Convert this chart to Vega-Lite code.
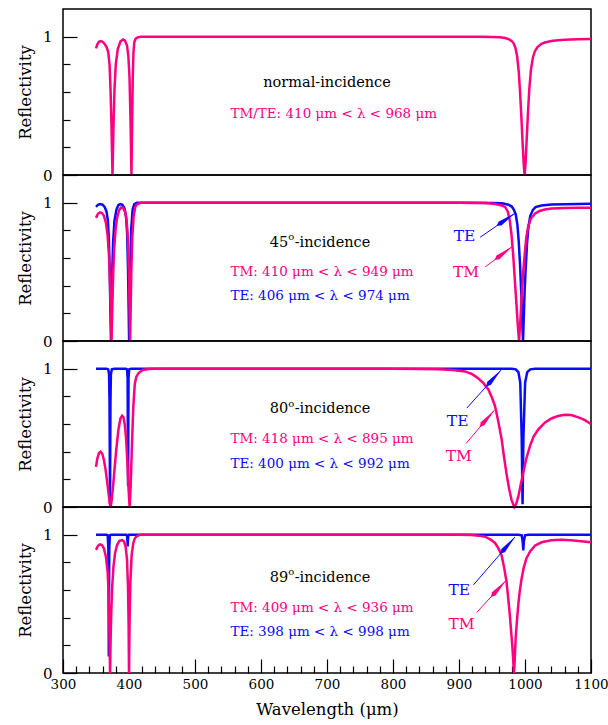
{
"$schema":"https://vega.github.io/schema/vega-lite/v6.json",
"padding":{"left":16,"top":8,"right":0,"bottom":3},
"background":"white",
"bounds":"flush",
"spacing":0,
"config":{
 "view":{"stroke":"black","strokeWidth":1.5},
 "axis":{"labelFont":"DejaVu Serif","titleFont":"DejaVu Serif","labelColor":"black","titleColor":"black","tickColor":"black","grid":false,"domain":false,"titleFontWeight":"normal","format":"d"},
 "text":{"font":"DejaVu Serif"}
},
"datasets":{
"curves":[
{"p":1,"pol":"TM/TE","w":350,"r":0.916},{"p":1,"pol":"TM/TE","w":352,"r":0.945},{"p":1,"pol":"TM/TE","w":354.5,"r":0.963},{"p":1,"pol":"TM/TE","w":357,"r":0.968},{"p":1,"pol":"TM/TE","w":360,"r":0.962},{"p":1,"pol":"TM/TE","w":363,"r":0.948},{"p":1,"pol":"TM/TE","w":366,"r":0.925},{"p":1,"pol":"TM/TE","w":368.5,"r":0.89},{"p":1,"pol":"TM/TE","w":370.5,"r":0.8},{"p":1,"pol":"TM/TE","w":372,"r":0.62},{"p":1,"pol":"TM/TE","w":373.5,"r":0.35},{"p":1,"pol":"TM/TE","w":375,"r":0},{"p":1,"pol":"TM/TE","w":376.5,"r":0.35},{"p":1,"pol":"TM/TE","w":378,"r":0.62},{"p":1,"pol":"TM/TE","w":380,"r":0.8},{"p":1,"pol":"TM/TE","w":383,"r":0.91},{"p":1,"pol":"TM/TE","w":387,"r":0.965},{"p":1,"pol":"TM/TE","w":391,"r":0.98},{"p":1,"pol":"TM/TE","w":394,"r":0.972},{"p":1,"pol":"TM/TE","w":397,"r":0.935},{"p":1,"pol":"TM/TE","w":399,"r":0.86},{"p":1,"pol":"TM/TE","w":400.8,"r":0.7},{"p":1,"pol":"TM/TE","w":402.3,"r":0.4},{"p":1,"pol":"TM/TE","w":403.7,"r":0},{"p":1,"pol":"TM/TE","w":404.7,"r":0.35},{"p":1,"pol":"TM/TE","w":405.7,"r":0.7},{"p":1,"pol":"TM/TE","w":406.7,"r":0.88},{"p":1,"pol":"TM/TE","w":408,"r":0.96},{"p":1,"pol":"TM/TE","w":410,"r":0.985},{"p":1,"pol":"TM/TE","w":413,"r":0.995},{"p":1,"pol":"TM/TE","w":418,"r":1},{"p":1,"pol":"TM/TE","w":600,"r":1},{"p":1,"pol":"TM/TE","w":800,"r":1},{"p":1,"pol":"TM/TE","w":930,"r":1},{"p":1,"pol":"TM/TE","w":950,"r":0.998},{"p":1,"pol":"TM/TE","w":962,"r":0.995},{"p":1,"pol":"TM/TE","w":970,"r":0.99},{"p":1,"pol":"TM/TE","w":976,"r":0.98},{"p":1,"pol":"TM/TE","w":980,"r":0.968},{"p":1,"pol":"TM/TE","w":983,"r":0.95},{"p":1,"pol":"TM/TE","w":985.5,"r":0.92},{"p":1,"pol":"TM/TE","w":988,"r":0.86},{"p":1,"pol":"TM/TE","w":990.5,"r":0.75},{"p":1,"pol":"TM/TE","w":992.5,"r":0.6},{"p":1,"pol":"TM/TE","w":994.5,"r":0.42},{"p":1,"pol":"TM/TE","w":996.5,"r":0.22},{"p":1,"pol":"TM/TE","w":998.2,"r":0.07},{"p":1,"pol":"TM/TE","w":999.5,"r":0},{"p":1,"pol":"TM/TE","w":1001,"r":0.1},{"p":1,"pol":"TM/TE","w":1002.5,"r":0.25},{"p":1,"pol":"TM/TE","w":1004.5,"r":0.45},{"p":1,"pol":"TM/TE","w":1006.5,"r":0.62},{"p":1,"pol":"TM/TE","w":1009,"r":0.76},{"p":1,"pol":"TM/TE","w":1012,"r":0.85},{"p":1,"pol":"TM/TE","w":1015,"r":0.895},{"p":1,"pol":"TM/TE","w":1019,"r":0.925},{"p":1,"pol":"TM/TE","w":1025,"r":0.948},{"p":1,"pol":"TM/TE","w":1030,"r":0.958},{"p":1,"pol":"TM/TE","w":1040,"r":0.968},{"p":1,"pol":"TM/TE","w":1050,"r":0.974},{"p":1,"pol":"TM/TE","w":1060,"r":0.978},{"p":1,"pol":"TM/TE","w":1080,"r":0.981},{"p":1,"pol":"TM/TE","w":1100,"r":0.983},

{"p":2,"pol":"TE","w":350,"r":0.97},{"p":2,"pol":"TE","w":353,"r":0.985},{"p":2,"pol":"TE","w":356,"r":0.99},{"p":2,"pol":"TE","w":360,"r":0.985},{"p":2,"pol":"TE","w":363,"r":0.97},{"p":2,"pol":"TE","w":366,"r":0.935},{"p":2,"pol":"TE","w":368,"r":0.87},{"p":2,"pol":"TE","w":369.5,"r":0.74},{"p":2,"pol":"TE","w":370.8,"r":0.5},{"p":2,"pol":"TE","w":371.8,"r":0.22},{"p":2,"pol":"TE","w":372.7,"r":0},{"p":2,"pol":"TE","w":373.6,"r":0.22},{"p":2,"pol":"TE","w":374.6,"r":0.5},{"p":2,"pol":"TE","w":376,"r":0.72},{"p":2,"pol":"TE","w":378,"r":0.87},{"p":2,"pol":"TE","w":381,"r":0.95},{"p":2,"pol":"TE","w":384,"r":0.983},{"p":2,"pol":"TE","w":387,"r":0.99},{"p":2,"pol":"TE","w":390,"r":0.985},{"p":2,"pol":"TE","w":393,"r":0.962},{"p":2,"pol":"TE","w":395.5,"r":0.905},{"p":2,"pol":"TE","w":397.2,"r":0.78},{"p":2,"pol":"TE","w":398.5,"r":0.52},{"p":2,"pol":"TE","w":399.5,"r":0.22},{"p":2,"pol":"TE","w":400.2,"r":0},{"p":2,"pol":"TE","w":401,"r":0.25},{"p":2,"pol":"TE","w":402,"r":0.55},{"p":2,"pol":"TE","w":403.5,"r":0.82},{"p":2,"pol":"TE","w":405.5,"r":0.95},{"p":2,"pol":"TE","w":408,"r":0.99},{"p":2,"pol":"TE","w":412,"r":1},{"p":2,"pol":"TE","w":600,"r":1},{"p":2,"pol":"TE","w":900,"r":1},{"p":2,"pol":"TE","w":950,"r":0.998},{"p":2,"pol":"TE","w":965,"r":0.995},{"p":2,"pol":"TE","w":975,"r":0.985},{"p":2,"pol":"TE","w":980,"r":0.972},{"p":2,"pol":"TE","w":983,"r":0.95},{"p":2,"pol":"TE","w":986,"r":0.915},{"p":2,"pol":"TE","w":988.5,"r":0.84},{"p":2,"pol":"TE","w":990.5,"r":0.72},{"p":2,"pol":"TE","w":992.5,"r":0.55},{"p":2,"pol":"TE","w":994.5,"r":0.33},{"p":2,"pol":"TE","w":996,"r":0.12},{"p":2,"pol":"TE","w":997,"r":0},{"p":2,"pol":"TE","w":998,"r":0.15},{"p":2,"pol":"TE","w":999.5,"r":0.37},{"p":2,"pol":"TE","w":1001,"r":0.52},{"p":2,"pol":"TE","w":1003,"r":0.7},{"p":2,"pol":"TE","w":1005,"r":0.82},{"p":2,"pol":"TE","w":1008,"r":0.905},{"p":2,"pol":"TE","w":1012,"r":0.948},{"p":2,"pol":"TE","w":1016,"r":0.968},{"p":2,"pol":"TE","w":1025,"r":0.98},{"p":2,"pol":"TE","w":1040,"r":0.986},{"p":2,"pol":"TE","w":1060,"r":0.989},{"p":2,"pol":"TE","w":1100,"r":0.992},

{"p":2,"pol":"TM","w":350,"r":0.89},{"p":2,"pol":"TM","w":353,"r":0.92},{"p":2,"pol":"TM","w":356,"r":0.93},{"p":2,"pol":"TM","w":359,"r":0.925},{"p":2,"pol":"TM","w":362,"r":0.905},{"p":2,"pol":"TM","w":365,"r":0.855},{"p":2,"pol":"TM","w":367.5,"r":0.77},{"p":2,"pol":"TM","w":369.5,"r":0.63},{"p":2,"pol":"TM","w":371,"r":0.45},{"p":2,"pol":"TM","w":372.5,"r":0.2},{"p":2,"pol":"TM","w":373.5,"r":0},{"p":2,"pol":"TM","w":374.5,"r":0.2},{"p":2,"pol":"TM","w":376,"r":0.48},{"p":2,"pol":"TM","w":377.5,"r":0.66},{"p":2,"pol":"TM","w":379.5,"r":0.8},{"p":2,"pol":"TM","w":382,"r":0.89},{"p":2,"pol":"TM","w":385,"r":0.945},{"p":2,"pol":"TM","w":388,"r":0.965},{"p":2,"pol":"TM","w":391,"r":0.962},{"p":2,"pol":"TM","w":394,"r":0.935},{"p":2,"pol":"TM","w":396.5,"r":0.865},{"p":2,"pol":"TM","w":398.5,"r":0.72},{"p":2,"pol":"TM","w":400,"r":0.45},{"p":2,"pol":"TM","w":401,"r":0.2},{"p":2,"pol":"TM","w":401.7,"r":0},{"p":2,"pol":"TM","w":402.5,"r":0.22},{"p":2,"pol":"TM","w":403.5,"r":0.5},{"p":2,"pol":"TM","w":405,"r":0.75},{"p":2,"pol":"TM","w":407,"r":0.9},{"p":2,"pol":"TM","w":409.5,"r":0.97},{"p":2,"pol":"TM","w":413,"r":0.99},{"p":2,"pol":"TM","w":418,"r":1},{"p":2,"pol":"TM","w":600,"r":1},{"p":2,"pol":"TM","w":900,"r":1},{"p":2,"pol":"TM","w":940,"r":0.998},{"p":2,"pol":"TM","w":955,"r":0.99},{"p":2,"pol":"TM","w":965,"r":0.98},{"p":2,"pol":"TM","w":970,"r":0.968},{"p":2,"pol":"TM","w":974,"r":0.935},{"p":2,"pol":"TM","w":977,"r":0.87},{"p":2,"pol":"TM","w":979.5,"r":0.77},{"p":2,"pol":"TM","w":982,"r":0.63},{"p":2,"pol":"TM","w":984.5,"r":0.45},{"p":2,"pol":"TM","w":987,"r":0.27},{"p":2,"pol":"TM","w":989,"r":0.12},{"p":2,"pol":"TM","w":991,"r":0},{"p":2,"pol":"TM","w":993,"r":0.15},{"p":2,"pol":"TM","w":995,"r":0.33},{"p":2,"pol":"TM","w":997.5,"r":0.51},{"p":2,"pol":"TM","w":1000,"r":0.65},{"p":2,"pol":"TM","w":1002,"r":0.75},{"p":2,"pol":"TM","w":1005,"r":0.83},{"p":2,"pol":"TM","w":1009,"r":0.885},{"p":2,"pol":"TM","w":1015,"r":0.92},{"p":2,"pol":"TM","w":1022,"r":0.94},{"p":2,"pol":"TM","w":1030,"r":0.95},{"p":2,"pol":"TM","w":1040,"r":0.957},{"p":2,"pol":"TM","w":1060,"r":0.961},{"p":2,"pol":"TM","w":1080,"r":0.963},{"p":2,"pol":"TM","w":1100,"r":0.963},

{"p":3,"pol":"TE","w":350,"r":1},{"p":3,"pol":"TE","w":366,"r":1},{"p":3,"pol":"TE","w":368.5,"r":0.995},{"p":3,"pol":"TE","w":369.8,"r":0.96},{"p":3,"pol":"TE","w":370.5,"r":0.75},{"p":3,"pol":"TE","w":370.9,"r":0.35},{"p":3,"pol":"TE","w":371.2,"r":0.02},{"p":3,"pol":"TE","w":371.5,"r":0.35},{"p":3,"pol":"TE","w":371.9,"r":0.75},{"p":3,"pol":"TE","w":372.6,"r":0.96},{"p":3,"pol":"TE","w":374,"r":0.995},{"p":3,"pol":"TE","w":378,"r":1},{"p":3,"pol":"TE","w":395,"r":1},{"p":3,"pol":"TE","w":397,"r":0.995},{"p":3,"pol":"TE","w":397.9,"r":0.93},{"p":3,"pol":"TE","w":398.3,"r":0.5},{"p":3,"pol":"TE","w":398.6,"r":0.15},{"p":3,"pol":"TE","w":398.9,"r":0.5},{"p":3,"pol":"TE","w":399.3,"r":0.93},{"p":3,"pol":"TE","w":400.2,"r":0.995},{"p":3,"pol":"TE","w":403,"r":1},{"p":3,"pol":"TE","w":980,"r":1},{"p":3,"pol":"TE","w":986,"r":0.995},{"p":3,"pol":"TE","w":990,"r":0.975},{"p":3,"pol":"TE","w":992.8,"r":0.9},{"p":3,"pol":"TE","w":995,"r":0.5},{"p":3,"pol":"TE","w":996.3,"r":0.02},{"p":3,"pol":"TE","w":997.6,"r":0.5},{"p":3,"pol":"TE","w":1000.2,"r":0.9},{"p":3,"pol":"TE","w":1003.4,"r":0.975},{"p":3,"pol":"TE","w":1008,"r":0.995},{"p":3,"pol":"TE","w":1015,"r":1},{"p":3,"pol":"TE","w":1100,"r":1},

{"p":3,"pol":"TM","w":350,"r":0.29},{"p":3,"pol":"TM","w":352,"r":0.35},{"p":3,"pol":"TM","w":354.5,"r":0.39},{"p":3,"pol":"TM","w":357,"r":0.4},{"p":3,"pol":"TM","w":359.5,"r":0.385},{"p":3,"pol":"TM","w":362,"r":0.34},{"p":3,"pol":"TM","w":364.5,"r":0.27},{"p":3,"pol":"TM","w":367,"r":0.18},{"p":3,"pol":"TM","w":369,"r":0.1},{"p":3,"pol":"TM","w":370.5,"r":0.04},{"p":3,"pol":"TM","w":372,"r":0},{"p":3,"pol":"TM","w":373.5,"r":0.04},{"p":3,"pol":"TM","w":375.5,"r":0.13},{"p":3,"pol":"TM","w":378,"r":0.27},{"p":3,"pol":"TM","w":381,"r":0.43},{"p":3,"pol":"TM","w":384,"r":0.56},{"p":3,"pol":"TM","w":387,"r":0.64},{"p":3,"pol":"TM","w":389.5,"r":0.66},{"p":3,"pol":"TM","w":391.5,"r":0.65},{"p":3,"pol":"TM","w":393.5,"r":0.6},{"p":3,"pol":"TM","w":395.5,"r":0.5},{"p":3,"pol":"TM","w":397.5,"r":0.33},{"p":3,"pol":"TM","w":399.3,"r":0.13},{"p":3,"pol":"TM","w":401,"r":0},{"p":3,"pol":"TM","w":402.5,"r":0.15},{"p":3,"pol":"TM","w":404.5,"r":0.45},{"p":3,"pol":"TM","w":406.5,"r":0.72},{"p":3,"pol":"TM","w":408.7,"r":0.887},{"p":3,"pol":"TM","w":411,"r":0.94},{"p":3,"pol":"TM","w":413.5,"r":0.96},{"p":3,"pol":"TM","w":416,"r":0.975},{"p":3,"pol":"TM","w":421,"r":0.99},{"p":3,"pol":"TM","w":430,"r":0.997},{"p":3,"pol":"TM","w":440,"r":1},{"p":3,"pol":"TM","w":800,"r":1},{"p":3,"pol":"TM","w":840,"r":0.998},{"p":3,"pol":"TM","w":869,"r":0.995},{"p":3,"pol":"TM","w":890,"r":0.99},{"p":3,"pol":"TM","w":909,"r":0.98},{"p":3,"pol":"TM","w":920,"r":0.96},{"p":3,"pol":"TM","w":929,"r":0.93},{"p":3,"pol":"TM","w":937,"r":0.895},{"p":3,"pol":"TM","w":944.5,"r":0.85},{"p":3,"pol":"TM","w":950,"r":0.79},{"p":3,"pol":"TM","w":954.6,"r":0.73},{"p":3,"pol":"TM","w":959,"r":0.63},{"p":3,"pol":"TM","w":964.6,"r":0.49},{"p":3,"pol":"TM","w":968,"r":0.37},{"p":3,"pol":"TM","w":972,"r":0.24},{"p":3,"pol":"TM","w":976,"r":0.13},{"p":3,"pol":"TM","w":979.7,"r":0.05},{"p":3,"pol":"TM","w":983.8,"r":0},{"p":3,"pol":"TM","w":986.5,"r":0.02},{"p":3,"pol":"TM","w":989.8,"r":0.075},{"p":3,"pol":"TM","w":993,"r":0.15},{"p":3,"pol":"TM","w":997,"r":0.24},{"p":3,"pol":"TM","w":1002,"r":0.35},{"p":3,"pol":"TM","w":1007.5,"r":0.44},{"p":3,"pol":"TM","w":1013,"r":0.51},{"p":3,"pol":"TM","w":1020,"r":0.56},{"p":3,"pol":"TM","w":1030,"r":0.61},{"p":3,"pol":"TM","w":1040,"r":0.64},{"p":3,"pol":"TM","w":1050,"r":0.658},{"p":3,"pol":"TM","w":1060,"r":0.667},{"p":3,"pol":"TM","w":1070,"r":0.665},{"p":3,"pol":"TM","w":1080,"r":0.65},{"p":3,"pol":"TM","w":1090,"r":0.63},{"p":3,"pol":"TM","w":1100,"r":0.6},

{"p":4,"pol":"TE","w":350,"r":1},{"p":4,"pol":"TE","w":366,"r":1},{"p":4,"pol":"TE","w":367.8,"r":0.995},{"p":4,"pol":"TE","w":368.7,"r":0.9},{"p":4,"pol":"TE","w":369.1,"r":0.5},{"p":4,"pol":"TE","w":369.4,"r":0.12},{"p":4,"pol":"TE","w":369.7,"r":0.5},{"p":4,"pol":"TE","w":370.1,"r":0.9},{"p":4,"pol":"TE","w":371,"r":0.995},{"p":4,"pol":"TE","w":373,"r":1},{"p":4,"pol":"TE","w":396,"r":1},{"p":4,"pol":"TE","w":397.2,"r":0.99},{"p":4,"pol":"TE","w":397.7,"r":0.95},{"p":4,"pol":"TE","w":398,"r":0.915},{"p":4,"pol":"TE","w":398.3,"r":0.95},{"p":4,"pol":"TE","w":398.8,"r":0.99},{"p":4,"pol":"TE","w":400,"r":1},{"p":4,"pol":"TE","w":990,"r":1},{"p":4,"pol":"TE","w":995,"r":0.995},{"p":4,"pol":"TE","w":996.5,"r":0.95},{"p":4,"pol":"TE","w":997.4,"r":0.886},{"p":4,"pol":"TE","w":998.3,"r":0.95},{"p":4,"pol":"TE","w":1000,"r":0.995},{"p":4,"pol":"TE","w":1005,"r":1},{"p":4,"pol":"TE","w":1100,"r":1},

{"p":4,"pol":"TM","w":350,"r":0.89},{"p":4,"pol":"TM","w":353,"r":0.92},{"p":4,"pol":"TM","w":356,"r":0.93},{"p":4,"pol":"TM","w":359,"r":0.925},{"p":4,"pol":"TM","w":362,"r":0.9},{"p":4,"pol":"TM","w":365,"r":0.84},{"p":4,"pol":"TM","w":367.5,"r":0.74},{"p":4,"pol":"TM","w":369,"r":0.6},{"p":4,"pol":"TM","w":370,"r":0.4},{"p":4,"pol":"TM","w":370.7,"r":0.2},{"p":4,"pol":"TM","w":371.3,"r":0},{"p":4,"pol":"TM","w":372,"r":0.2},{"p":4,"pol":"TM","w":373,"r":0.42},{"p":4,"pol":"TM","w":374.5,"r":0.62},{"p":4,"pol":"TM","w":376.5,"r":0.77},{"p":4,"pol":"TM","w":379,"r":0.87},{"p":4,"pol":"TM","w":382,"r":0.925},{"p":4,"pol":"TM","w":385.5,"r":0.955},{"p":4,"pol":"TM","w":389.5,"r":0.96},{"p":4,"pol":"TM","w":392.5,"r":0.95},{"p":4,"pol":"TM","w":395,"r":0.91},{"p":4,"pol":"TM","w":397,"r":0.82},{"p":4,"pol":"TM","w":398.5,"r":0.62},{"p":4,"pol":"TM","w":399.4,"r":0.35},{"p":4,"pol":"TM","w":400,"r":0},{"p":4,"pol":"TM","w":400.8,"r":0.35},{"p":4,"pol":"TM","w":402,"r":0.65},{"p":4,"pol":"TM","w":404,"r":0.85},{"p":4,"pol":"TM","w":406.5,"r":0.94},{"p":4,"pol":"TM","w":409,"r":0.975},{"p":4,"pol":"TM","w":412,"r":0.99},{"p":4,"pol":"TM","w":418,"r":1},{"p":4,"pol":"TM","w":600,"r":1},{"p":4,"pol":"TM","w":900,"r":1},{"p":4,"pol":"TM","w":919,"r":0.998},{"p":4,"pol":"TM","w":930,"r":0.993},{"p":4,"pol":"TM","w":939.5,"r":0.985},{"p":4,"pol":"TM","w":948,"r":0.965},{"p":4,"pol":"TM","w":954.6,"r":0.94},{"p":4,"pol":"TM","w":960,"r":0.9},{"p":4,"pol":"TM","w":964.6,"r":0.85},{"p":4,"pol":"TM","w":968.5,"r":0.76},{"p":4,"pol":"TM","w":972,"r":0.66},{"p":4,"pol":"TM","w":975,"r":0.52},{"p":4,"pol":"TM","w":977,"r":0.42},{"p":4,"pol":"TM","w":979,"r":0.3},{"p":4,"pol":"TM","w":980.8,"r":0.195},{"p":4,"pol":"TM","w":982.3,"r":0.08},{"p":4,"pol":"TM","w":983.3,"r":0},{"p":4,"pol":"TM","w":984.5,"r":0.1},{"p":4,"pol":"TM","w":985.8,"r":0.25},{"p":4,"pol":"TM","w":988,"r":0.39},{"p":4,"pol":"TM","w":989.8,"r":0.49},{"p":4,"pol":"TM","w":992,"r":0.59},{"p":4,"pol":"TM","w":994.8,"r":0.68},{"p":4,"pol":"TM","w":998,"r":0.76},{"p":4,"pol":"TM","w":1002.3,"r":0.83},{"p":4,"pol":"TM","w":1008,"r":0.88},{"p":4,"pol":"TM","w":1015,"r":0.92},{"p":4,"pol":"TM","w":1025,"r":0.945},{"p":4,"pol":"TM","w":1040,"r":0.96},{"p":4,"pol":"TM","w":1055,"r":0.963},{"p":4,"pol":"TM","w":1070,"r":0.96},{"p":4,"pol":"TM","w":1085,"r":0.953},{"p":4,"pol":"TM","w":1100,"r":0.946}
],
"notes":[
{"p":1,"kind":"head","pol":"","txt":"normal-incidence","w":603.4,"r":0.636},
{"p":1,"kind":"range","pol":"TM/TE","txt":"TM/TE: 410 μm < λ < 968 μm","w":553.6,"r":0.41},
{"p":2,"kind":"num","pol":"","txt":"45","w":613.2,"r":0.683},
{"p":2,"kind":"sup","pol":"","txt":"o","w":613.2,"r":0.683},
{"p":2,"kind":"tail","pol":"","txt":"-incidence","w":613.2,"r":0.683},
{"p":2,"kind":"range","pol":"TM","txt":"TM: 410 μm < λ < 949 μm","w":553.6,"r":0.47},
{"p":2,"kind":"range","pol":"TE","txt":"TE: 406 μm < λ < 974 μm","w":553.6,"r":0.3},
{"p":2,"kind":"tag","pol":"TE","txt":"TE","w":908.3,"r":0.723},
{"p":2,"kind":"tag","pol":"TM","txt":"TM","w":910.6,"r":0.465},
{"p":3,"kind":"num","pol":"","txt":"80","w":613.2,"r":0.678},
{"p":3,"kind":"sup","pol":"","txt":"o","w":613.2,"r":0.678},
{"p":3,"kind":"tail","pol":"","txt":"-incidence","w":613.2,"r":0.678},
{"p":3,"kind":"range","pol":"TM","txt":"TM: 418 μm < λ < 895 μm","w":553.6,"r":0.461},
{"p":3,"kind":"range","pol":"TE","txt":"TE: 400 μm < λ < 992 μm","w":553.6,"r":0.284},
{"p":3,"kind":"tag","pol":"TE","txt":"TE","w":898,"r":0.586},
{"p":3,"kind":"tag","pol":"TM","txt":"TM","w":899.7,"r":0.335},
{"p":4,"kind":"num","pol":"","txt":"89","w":613.2,"r":0.658},
{"p":4,"kind":"sup","pol":"","txt":"o","w":613.2,"r":0.658},
{"p":4,"kind":"tail","pol":"","txt":"-incidence","w":613.2,"r":0.658},
{"p":4,"kind":"range","pol":"TM","txt":"TM: 409 μm < λ < 936 μm","w":553.6,"r":0.441},
{"p":4,"kind":"range","pol":"TE","txt":"TE: 398 μm < λ < 998 μm","w":553.6,"r":0.268},
{"p":4,"kind":"tag","pol":"TE","txt":"TE","w":900.5,"r":0.564},
{"p":4,"kind":"tag","pol":"TM","txt":"TM","w":903.8,"r":0.316}
],
"arrows":[
{"p":2,"pol":"TE","w":932,"r":0.75,"w2":984.8,"r2":0.923},
{"p":2,"pol":"TM","w":939.5,"r":0.535,"w2":980.8,"r2":0.683},
{"p":3,"pol":"TE","w":911.8,"r":0.715,"w2":963.7,"r2":0.99},
{"p":3,"pol":"TM","w":910.8,"r":0.46,"w2":953.6,"r2":0.7},
{"p":4,"pol":"TE","w":921.9,"r":0.637,"w2":984.8,"r2":0.983},
{"p":4,"pol":"TM","w":926.9,"r":0.438,"w2":971.2,"r2":0.668}
]
},
"vconcat":[
{
"width":528,"height":166,
"layer":[
{"data":{"name":"curves"},"transform":[{"filter":"datum.p == 1"}],
 "mark":{"type":"line","color":"#ff0080","strokeWidth":2.5},
 "encoding":{"x":{"field":"w","type":"quantitative","scale":{"domain":[300,1100],"nice":false},"axis":null},
  "y":{"field":"r","type":"quantitative","scale":{"domain":[0,1.2],"nice":false},"axis":{"orient":"left","values":[0,1],"tickSize":-14,"tickWidth":1.2,"labelFontSize":15,"labelPadding":25,"title":"Reflectivity","titleFontSize":16.5,"titlePadding":9,"labelOverlap":false,"labelFlush":false}}}},
{"data":{"name":"notes"},"transform":[{"filter":"datum.p == 1 && datum.kind == 'range'"}],
 "mark":{"type":"text","align":"left","baseline":"alphabetic","fontSize":13.5},
 "encoding":{"x":{"field":"w","type":"quantitative","axis":null},
  "y":{"field":"r","type":"quantitative","axis":{"orient":"left","values":[0.2,0.4,0.6,0.8],"tickSize":-7,"tickWidth":1.2,"labels":false,"title":null}},
  "text":{"field":"txt"},
  "color":{"field":"pol","type":"nominal","scale":{"domain":["TE","TM","TM/TE"],"range":["#0a0aff","#ff0080","#ff0080"]},"legend":null}}},
{"data":{"name":"notes"},"transform":[{"filter":"datum.p == 1 && datum.kind == 'head'"}],
 "mark":{"type":"text","align":"left","baseline":"alphabetic","fontSize":14.5,"color":"black"},
 "encoding":{"x":{"field":"w","type":"quantitative","axis":null},"y":{"field":"r","type":"quantitative","axis":null},"text":{"field":"txt"}}}
],
"resolve":{"axis":{"x":"independent","y":"independent"}}
},
{
"width":528,"height":166,
"layer":[
{"data":{"name":"curves"},"transform":[{"filter":"datum.p == 2 && datum.pol == 'TE'"}],
 "mark":{"type":"line","color":"#0a0aff","strokeWidth":2.5},
 "encoding":{"x":{"field":"w","type":"quantitative","scale":{"domain":[300,1100],"nice":false},"axis":null},
  "y":{"field":"r","type":"quantitative","scale":{"domain":[0,1.2],"nice":false},"axis":null}}},
{"data":{"name":"curves"},"transform":[{"filter":"datum.p == 2 && datum.pol == 'TM'"}],
 "mark":{"type":"line","color":"#ff0080","strokeWidth":2.5},
 "encoding":{"x":{"field":"w","type":"quantitative","axis":null},
  "y":{"field":"r","type":"quantitative","axis":{"orient":"left","values":[0,1],"tickSize":-14,"tickWidth":1.2,"labelFontSize":15,"labelPadding":25,"title":"Reflectivity","titleFontSize":16.5,"titlePadding":9,"labelOverlap":false,"labelFlush":false}}}},
{"data":{"name":"arrows"},"transform":[{"filter":"datum.p == 2"}],
 "mark":{"type":"rule","strokeWidth":1},
 "encoding":{"x":{"field":"w","type":"quantitative","axis":null},"y":{"field":"r","type":"quantitative","axis":null},"x2":{"field":"w2"},"y2":{"field":"r2"},
  "color":{"field":"pol","type":"nominal","scale":{"domain":["TE","TM","TM/TE"],"range":["#0a0aff","#ff0080","#ff0080"]},"legend":null}}},
{"data":{"name":"arrows"},"transform":[{"filter":"datum.p == 2 && datum.pol == 'TE'"}],
 "mark":{"type":"point","shape":"M0,0L0.4,3L0,3.7L-0.4,3Z","size":144,"filled":true,"opacity":1,"strokeWidth":0,"angle":55.6,"color":"#0a0aff"},
 "encoding":{"x":{"field":"w2","type":"quantitative","axis":null},"y":{"field":"r2","type":"quantitative","axis":null}}},
{"data":{"name":"arrows"},"transform":[{"filter":"datum.p == 2 && datum.pol == 'TM'"}],
 "mark":{"type":"point","shape":"M0,0L0.4,3L0,3.7L-0.4,3Z","size":144,"filled":true,"opacity":1,"strokeWidth":0,"angle":52.8,"color":"#ff0080"},
 "encoding":{"x":{"field":"w2","type":"quantitative","axis":null},"y":{"field":"r2","type":"quantitative","axis":null}}},
{"data":{"name":"notes"},"transform":[{"filter":"datum.p == 2 && datum.kind == 'range'"}],
 "mark":{"type":"text","align":"left","baseline":"alphabetic","fontSize":13.5},
 "encoding":{"x":{"field":"w","type":"quantitative","axis":null},
  "y":{"field":"r","type":"quantitative","axis":{"orient":"left","values":[0.2,0.4,0.6,0.8],"tickSize":-7,"tickWidth":1.2,"labels":false,"title":null}},
  "text":{"field":"txt"},
  "color":{"field":"pol","type":"nominal","scale":{"domain":["TE","TM","TM/TE"],"range":["#0a0aff","#ff0080","#ff0080"]},"legend":null}}},
{"data":{"name":"notes"},"transform":[{"filter":"datum.p == 2 && datum.kind == 'tag'"}],
 "mark":{"type":"text","align":"center","baseline":"alphabetic","fontSize":15.5},
 "encoding":{"x":{"field":"w","type":"quantitative","axis":null},"y":{"field":"r","type":"quantitative","axis":null},"text":{"field":"txt"},
  "color":{"field":"pol","type":"nominal","scale":{"domain":["TE","TM","TM/TE"],"range":["#0a0aff","#ff0080","#ff0080"]},"legend":null}}},
{"data":{"name":"notes"},"transform":[{"filter":"datum.p == 2 && datum.kind == 'num'"}],
 "mark":{"type":"text","align":"left","baseline":"alphabetic","fontSize":14.5,"color":"black"},
 "encoding":{"x":{"field":"w","type":"quantitative","axis":null},"y":{"field":"r","type":"quantitative","axis":null},"text":{"field":"txt"}}},
{"data":{"name":"notes"},"transform":[{"filter":"datum.p == 2 && datum.kind == 'sup'"}],
 "mark":{"type":"text","align":"left","baseline":"alphabetic","fontSize":10,"dx":18.5,"dy":-6.5,"color":"black"},
 "encoding":{"x":{"field":"w","type":"quantitative","axis":null},"y":{"field":"r","type":"quantitative","axis":null},"text":{"field":"txt"}}},
{"data":{"name":"notes"},"transform":[{"filter":"datum.p == 2 && datum.kind == 'tail'"}],
 "mark":{"type":"text","align":"left","baseline":"alphabetic","fontSize":14.5,"dx":25,"color":"black"},
 "encoding":{"x":{"field":"w","type":"quantitative","axis":null},"y":{"field":"r","type":"quantitative","axis":null},"text":{"field":"txt"}}}
],
"resolve":{"axis":{"x":"independent","y":"independent"}}
},
{
"width":528,"height":166,
"layer":[
{"data":{"name":"curves"},"transform":[{"filter":"datum.p == 3 && datum.pol == 'TE'"}],
 "mark":{"type":"line","color":"#0a0aff","strokeWidth":2.5},
 "encoding":{"x":{"field":"w","type":"quantitative","scale":{"domain":[300,1100],"nice":false},"axis":null},
  "y":{"field":"r","type":"quantitative","scale":{"domain":[0,1.2],"nice":false},"axis":null}}},
{"data":{"name":"curves"},"transform":[{"filter":"datum.p == 3 && datum.pol == 'TM'"}],
 "mark":{"type":"line","color":"#ff0080","strokeWidth":2.5},
 "encoding":{"x":{"field":"w","type":"quantitative","axis":null},
  "y":{"field":"r","type":"quantitative","axis":{"orient":"left","values":[0,1],"tickSize":-14,"tickWidth":1.2,"labelFontSize":15,"labelPadding":25,"title":"Reflectivity","titleFontSize":16.5,"titlePadding":9,"labelOverlap":false,"labelFlush":false}}}},
{"data":{"name":"arrows"},"transform":[{"filter":"datum.p == 3"}],
 "mark":{"type":"rule","strokeWidth":1},
 "encoding":{"x":{"field":"w","type":"quantitative","axis":null},"y":{"field":"r","type":"quantitative","axis":null},"x2":{"field":"w2"},"y2":{"field":"r2"},
  "color":{"field":"pol","type":"nominal","scale":{"domain":["TE","TM","TM/TE"],"range":["#0a0aff","#ff0080","#ff0080"]},"legend":null}}},
{"data":{"name":"arrows"},"transform":[{"filter":"datum.p == 3 && datum.pol == 'TE'"}],
 "mark":{"type":"point","shape":"M0,0L0.4,3L0,3.7L-0.4,3Z","size":144,"filled":true,"opacity":1,"strokeWidth":0,"angle":41.9,"color":"#0a0aff"},
 "encoding":{"x":{"field":"w2","type":"quantitative","axis":null},"y":{"field":"r2","type":"quantitative","axis":null}}},
{"data":{"name":"arrows"},"transform":[{"filter":"datum.p == 3 && datum.pol == 'TM'"}],
 "mark":{"type":"point","shape":"M0,0L0.4,3L0,3.7L-0.4,3Z","size":144,"filled":true,"opacity":1,"strokeWidth":0,"angle":41,"color":"#ff0080"},
 "encoding":{"x":{"field":"w2","type":"quantitative","axis":null},"y":{"field":"r2","type":"quantitative","axis":null}}},
{"data":{"name":"notes"},"transform":[{"filter":"datum.p == 3 && datum.kind == 'range'"}],
 "mark":{"type":"text","align":"left","baseline":"alphabetic","fontSize":13.5},
 "encoding":{"x":{"field":"w","type":"quantitative","axis":null},
  "y":{"field":"r","type":"quantitative","axis":{"orient":"left","values":[0.2,0.4,0.6,0.8],"tickSize":-7,"tickWidth":1.2,"labels":false,"title":null}},
  "text":{"field":"txt"},
  "color":{"field":"pol","type":"nominal","scale":{"domain":["TE","TM","TM/TE"],"range":["#0a0aff","#ff0080","#ff0080"]},"legend":null}}},
{"data":{"name":"notes"},"transform":[{"filter":"datum.p == 3 && datum.kind == 'tag'"}],
 "mark":{"type":"text","align":"center","baseline":"alphabetic","fontSize":15.5},
 "encoding":{"x":{"field":"w","type":"quantitative","axis":null},"y":{"field":"r","type":"quantitative","axis":null},"text":{"field":"txt"},
  "color":{"field":"pol","type":"nominal","scale":{"domain":["TE","TM","TM/TE"],"range":["#0a0aff","#ff0080","#ff0080"]},"legend":null}}},
{"data":{"name":"notes"},"transform":[{"filter":"datum.p == 3 && datum.kind == 'num'"}],
 "mark":{"type":"text","align":"left","baseline":"alphabetic","fontSize":14.5,"color":"black"},
 "encoding":{"x":{"field":"w","type":"quantitative","axis":null},"y":{"field":"r","type":"quantitative","axis":null},"text":{"field":"txt"}}},
{"data":{"name":"notes"},"transform":[{"filter":"datum.p == 3 && datum.kind == 'sup'"}],
 "mark":{"type":"text","align":"left","baseline":"alphabetic","fontSize":10,"dx":18.5,"dy":-6.5,"color":"black"},
 "encoding":{"x":{"field":"w","type":"quantitative","axis":null},"y":{"field":"r","type":"quantitative","axis":null},"text":{"field":"txt"}}},
{"data":{"name":"notes"},"transform":[{"filter":"datum.p == 3 && datum.kind == 'tail'"}],
 "mark":{"type":"text","align":"left","baseline":"alphabetic","fontSize":14.5,"dx":25,"color":"black"},
 "encoding":{"x":{"field":"w","type":"quantitative","axis":null},"y":{"field":"r","type":"quantitative","axis":null},"text":{"field":"txt"}}}
],
"resolve":{"axis":{"x":"independent","y":"independent"}}
},
{
"width":528,"height":166,
"layer":[
{"data":{"name":"curves"},"transform":[{"filter":"datum.p == 4 && datum.pol == 'TE'"}],
 "mark":{"type":"line","color":"#0a0aff","strokeWidth":2.5},
 "encoding":{"x":{"field":"w","type":"quantitative","scale":{"domain":[300,1100],"nice":false},"axis":null},
  "y":{"field":"r","type":"quantitative","scale":{"domain":[0,1.2],"nice":false},"axis":null}}},
{"data":{"name":"curves"},"transform":[{"filter":"datum.p == 4 && datum.pol == 'TM'"}],
 "mark":{"type":"line","color":"#ff0080","strokeWidth":2.5},
 "encoding":{"x":{"field":"w","type":"quantitative","axis":{"orient":"bottom","values":[300,400,500,600,700,800,900,1000,1100],"tickSize":-14,"tickWidth":1.2,"labelFontSize":13.5,"labelPadding":18,"title":"Wavelength (μm)","titleFontSize":16.5,"titlePadding":11,"labelFlush":false,"labelOverlap":false}},
  "y":{"field":"r","type":"quantitative","axis":{"orient":"left","values":[0,1],"tickSize":-14,"tickWidth":1.2,"labelFontSize":15,"labelPadding":25,"title":"Reflectivity","titleFontSize":16.5,"titlePadding":9,"labelOverlap":false,"labelFlush":false}}}},
{"data":{"name":"arrows"},"transform":[{"filter":"datum.p == 4"}],
 "mark":{"type":"rule","strokeWidth":1},
 "encoding":{"x":{"field":"w","type":"quantitative","axis":null},"y":{"field":"r","type":"quantitative","axis":null},"x2":{"field":"w2"},"y2":{"field":"r2"},
  "color":{"field":"pol","type":"nominal","scale":{"domain":["TE","TM","TM/TE"],"range":["#0a0aff","#ff0080","#ff0080"]},"legend":null}}},
{"data":{"name":"arrows"},"transform":[{"filter":"datum.p == 4 && datum.pol == 'TE'"}],
 "mark":{"type":"point","shape":"M0,0L0.4,3L0,3.7L-0.4,3Z","size":144,"filled":true,"opacity":1,"strokeWidth":0,"angle":41.2,"color":"#0a0aff"},
 "encoding":{"x":{"field":"w2","type":"quantitative","axis":null},"y":{"field":"r2","type":"quantitative","axis":null}}},
{"data":{"name":"arrows"},"transform":[{"filter":"datum.p == 4 && datum.pol == 'TM'"}],
 "mark":{"type":"point","shape":"M0,0L0.4,3L0,3.7L-0.4,3Z","size":144,"filled":true,"opacity":1,"strokeWidth":0,"angle":42.8,"color":"#ff0080"},
 "encoding":{"x":{"field":"w2","type":"quantitative","axis":null},"y":{"field":"r2","type":"quantitative","axis":null}}},
{"data":{"name":"notes"},"transform":[{"filter":"datum.p == 4 && datum.kind == 'range'"}],
 "mark":{"type":"text","align":"left","baseline":"alphabetic","fontSize":13.5},
 "encoding":{"x":{"field":"w","type":"quantitative","axis":{"orient":"bottom","values":[320,340,360,380,420,440,460,480,520,540,560,580,620,640,660,680,720,740,760,780,820,840,860,880,920,940,960,980,1020,1040,1060,1080],"tickSize":-7,"tickWidth":1.2,"labels":false,"title":null}},
  "y":{"field":"r","type":"quantitative","axis":{"orient":"left","values":[0.2,0.4,0.6,0.8],"tickSize":-7,"tickWidth":1.2,"labels":false,"title":null}},
  "text":{"field":"txt"},
  "color":{"field":"pol","type":"nominal","scale":{"domain":["TE","TM","TM/TE"],"range":["#0a0aff","#ff0080","#ff0080"]},"legend":null}}},
{"data":{"name":"notes"},"transform":[{"filter":"datum.p == 4 && datum.kind == 'tag'"}],
 "mark":{"type":"text","align":"center","baseline":"alphabetic","fontSize":15.5},
 "encoding":{"x":{"field":"w","type":"quantitative","axis":null},"y":{"field":"r","type":"quantitative","axis":null},"text":{"field":"txt"},
  "color":{"field":"pol","type":"nominal","scale":{"domain":["TE","TM","TM/TE"],"range":["#0a0aff","#ff0080","#ff0080"]},"legend":null}}},
{"data":{"name":"notes"},"transform":[{"filter":"datum.p == 4 && datum.kind == 'num'"}],
 "mark":{"type":"text","align":"left","baseline":"alphabetic","fontSize":14.5,"color":"black"},
 "encoding":{"x":{"field":"w","type":"quantitative","axis":null},"y":{"field":"r","type":"quantitative","axis":null},"text":{"field":"txt"}}},
{"data":{"name":"notes"},"transform":[{"filter":"datum.p == 4 && datum.kind == 'sup'"}],
 "mark":{"type":"text","align":"left","baseline":"alphabetic","fontSize":10,"dx":18.5,"dy":-6.5,"color":"black"},
 "encoding":{"x":{"field":"w","type":"quantitative","axis":null},"y":{"field":"r","type":"quantitative","axis":null},"text":{"field":"txt"}}},
{"data":{"name":"notes"},"transform":[{"filter":"datum.p == 4 && datum.kind == 'tail'"}],
 "mark":{"type":"text","align":"left","baseline":"alphabetic","fontSize":14.5,"dx":25,"color":"black"},
 "encoding":{"x":{"field":"w","type":"quantitative","axis":null},"y":{"field":"r","type":"quantitative","axis":null},"text":{"field":"txt"}}}
],
"resolve":{"axis":{"x":"independent","y":"independent"}}
}
]
}
